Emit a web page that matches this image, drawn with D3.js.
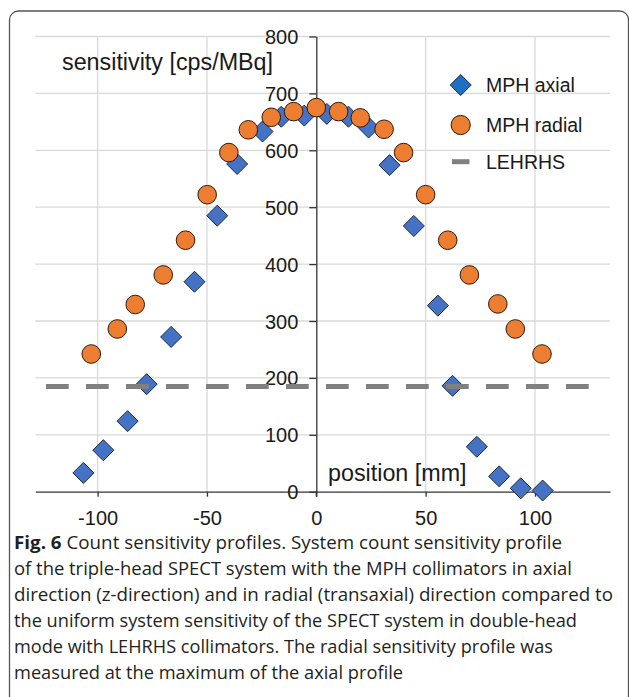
<!DOCTYPE html>
<html>
<head>
<meta charset="utf-8">
<script src="https://cdn.jsdelivr.net/npm/d3@7"></script>
<style>
  html, body { margin: 0; padding: 0; background: #fff; }
  svg { display: block; }
</style>
</head>
<body>
<svg id="chart" width="629" height="697"></svg>
<script>
// ---- data ----
const axialX = [-106.5, -97.4, -86.3, -77.6, -66.4, -55.7, -45.3, -36.2, -24.6, -16.0, -5.5, 4.8, 14.7, 23.9, 33.5, 44.6, 55.6, 62.3, 73.4, 83.6, 93.5, 103.5];
const axialY = [33, 73, 124, 189, 272, 369, 485, 576, 633, 659, 661, 664, 659, 640, 574, 467, 327, 186, 79, 27, 6, 2];
const radialX = [-102.9, -91.0, -82.8, -70.0, -59.8, -49.9, -40.0, -31.1, -20.6, -10.4, 0, 10.2, 20.1, 31.0, 39.9, 50.0, 60.1, 70.0, 83.0, 91.0, 103.2];
const radialY = [242, 286, 329, 381, 442, 522, 596, 636, 658, 668, 675, 668, 657, 637, 596, 522, 442, 381, 330, 286, 242];
const lehrhsX = [-123.6, 124.8];
const lehrhsY = [185, 185];
const xTicks = [-100, -50, 0, 50, 100];
const xTickLabels = ["-100", "-50", "0", "50", "100"];
const yTicks = [0, 100, 200, 300, 400, 500, 600, 700, 800];
const yTickLabels = ["0", "100", "200", "300", "400", "500", "600", "700", "800"];
const seriesNames = ["MPH axial", "MPH radial", "LEHRHS"];
const yTitle = "sensitivity [cps/MBq]";
const xTitle = "position [mm]";
const captionBold = "Fig. 6";
const captionLines = [
  "Count sensitivity profiles. System count sensitivity profile",
  "of the triple-head SPECT system with the MPH collimators in axial",
  "direction (z-direction) and in radial (transaxial) direction compared to",
  "the uniform system sensitivity of the SPECT system in double-head",
  "mode with LEHRHS collimators. The radial sensitivity profile was",
  "measured at the maximum of the axial profile"
];

// ---- layout ----
const svg = d3.select("#chart");
const x = d3.scaleLinear().domain([-128.5, 134.3]).range([35.3, 610]);
const y = d3.scaleLinear().domain([0, 800]).range([491.7, 36.5]);
const font = "'Liberation Sans', Arial, sans-serif";
const gridColor = "#d9d9d9";
const axisColor = "#333";

// frame
svg.append("rect")
  .attr("x", 9.5).attr("y", 11).attr("width", 619).attr("height", 720)
  .attr("rx", 9).attr("ry", 9)
  .attr("fill", "none").attr("stroke", "#555").attr("stroke-width", 1.3);

// grid
const grid = svg.append("g");
grid.selectAll("line.h").data(yTicks.filter(d => d > 0)).join("line")
  .attr("x1", x.range()[0]).attr("x2", x.range()[1])
  .attr("y1", d => y(d)).attr("y2", d => y(d))
  .attr("stroke", gridColor).attr("stroke-width", 1.3);
grid.selectAll("line.v").data(xTicks.filter(d => d !== 0)).join("line")
  .attr("x1", d => x(d)).attr("x2", d => x(d))
  .attr("y1", y(800)).attr("y2", y(0))
  .attr("stroke", gridColor).attr("stroke-width", 1.3);

// x axis
const xAxis = svg.append("g").attr("transform", `translate(0,${y(0)})`)
  .call(d3.axisBottom(x).tickValues(xTicks).tickSize(5).tickSizeOuter(0)
        .tickFormat((d, i) => xTickLabels[i]));
xAxis.select(".domain").attr("stroke", axisColor).attr("stroke-width", 1.3);
xAxis.selectAll(".tick line").attr("stroke", axisColor).attr("stroke-width", 1.3);
xAxis.selectAll(".tick text").attr("font-family", font).attr("font-size", 20)
  .attr("fill", "#1a1a1a").attr("y", 33).attr("dy", 0);

// y axis
const yAxis = svg.append("g").attr("transform", `translate(${x(0)},0)`)
  .call(d3.axisLeft(y).tickValues(yTicks).tickSize(7).tickSizeOuter(0)
        .tickFormat((d, i) => yTickLabels[i]));
yAxis.select(".domain").attr("stroke", axisColor).attr("stroke-width", 1.3);
yAxis.selectAll(".tick line").attr("stroke", axisColor).attr("stroke-width", 1.3);
yAxis.selectAll(".tick text").attr("font-family", font).attr("font-size", 20)
  .attr("fill", "#1a1a1a").attr("x", -18).attr("dy", "0.35em");
// y-axis extends slightly below x axis
svg.append("line").attr("x1", x(0)).attr("x2", x(0)).attr("y1", y(0)).attr("y2", y(0) + 5)
  .attr("stroke", axisColor).attr("stroke-width", 1.3);

// axis titles
svg.append("text").attr("x", 62).attr("y", 69.5).text(yTitle)
  .attr("font-family", font).attr("font-size", 23.3).attr("fill", "#1a1a1a");
svg.append("text").attr("x", 328).attr("y", 481).text(xTitle)
  .attr("font-family", font).attr("font-size", 23.3).attr("fill", "#1a1a1a");

// markers
const diamond = (cx, cy, r) => `M${cx},${cy - r}L${cx + r},${cy}L${cx},${cy + r}L${cx - r},${cy}Z`;
const axial = axialX.map((v, i) => ({ x: v, y: axialY[i] }));
const radial = radialX.map((v, i) => ({ x: v, y: radialY[i] }));

svg.append("g").selectAll("path").data(axial).join("path")
  .attr("d", d => diamond(x(d.x), y(d.y), 10.5))
  .attr("fill", "#4472C4").attr("stroke", "#1f2a3a").attr("stroke-width", 1);

svg.append("g").selectAll("circle").data(radial).join("circle")
  .attr("cx", d => x(d.x)).attr("cy", d => y(d.y)).attr("r", 9.3)
  .attr("fill", "#ED7D31").attr("stroke", "#2a1a10").attr("stroke-width", 1);

svg.append("line")
  .attr("x1", x(lehrhsX[0])).attr("x2", x(lehrhsX[1]))
  .attr("y1", y(lehrhsY[0])).attr("y2", y(lehrhsY[1]))
  .attr("stroke", "#808080").attr("stroke-width", 5)
  .attr("stroke-dasharray", "22.7,17.3");

// legend
const lg = svg.append("g");
lg.append("path").attr("d", diamond(460.7, 85, 10.5))
  .attr("fill", "#1f6fc4").attr("stroke", "#1f2a3a").attr("stroke-width", 1);
lg.append("circle").attr("cx", 460.7).attr("cy", 125).attr("r", 9.6)
  .attr("fill", "#ED7D31").attr("stroke", "#2a1a10").attr("stroke-width", 1);
lg.append("line").attr("x1", 452).attr("x2", 469.5).attr("y1", 161.7).attr("y2", 161.7)
  .attr("stroke", "#808080").attr("stroke-width", 5);
lg.selectAll("text").data(seriesNames).join("text")
  .attr("x", 486).attr("y", (d, i) => [92, 132, 169][i]).text(d => d)
  .attr("font-family", font).attr("font-size", 19.5).attr("fill", "#1a1a1a");

// caption
const capFont = "'Open Sans', 'Noto Sans', sans-serif";
const capWidths = [562 - 14, 572 - 14, 613 - 14, 577 - 14, 553 - 14, 403 - 14];
const cap = svg.append("g");
captionLines.forEach((line, i) => {
  const t = cap.append("text").attr("x", 14).attr("y", 549 + i * 25.9)
    .attr("font-family", capFont).attr("font-size", 18.5).attr("fill", "#231f20")
    .attr("textLength", capWidths[i]).attr("lengthAdjust", "spacingAndGlyphs");
  if (i === 0) {
    t.append("tspan").attr("font-weight", "bold").text(captionBold + "  ");
  }
  t.append("tspan").text(line);
});
</script>
</body>
</html>
